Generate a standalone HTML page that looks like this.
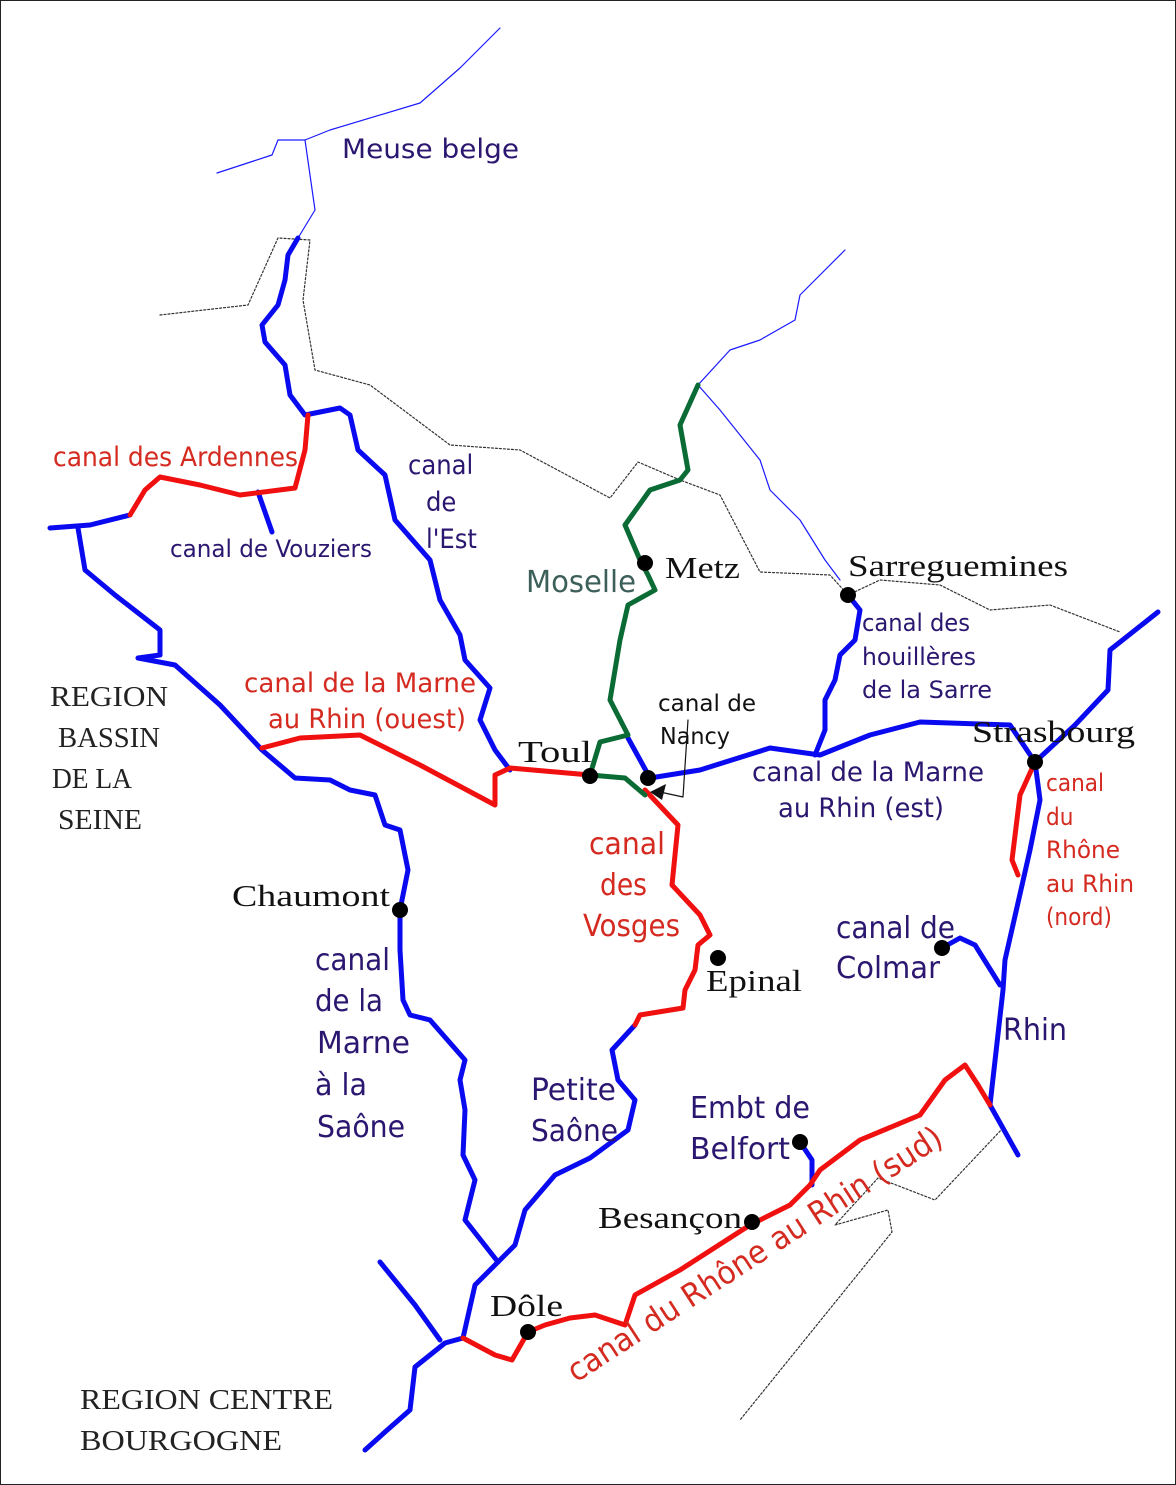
<!DOCTYPE html>
<html><head><meta charset="utf-8"><style>
html,body{margin:0;padding:0;background:#fff}
svg{display:block}
.s{font-family:"DejaVu Sans Condensed","Liberation Sans",sans-serif;font-size:27px;fill:#2b1670}
.r{font-family:"DejaVu Sans Condensed","Liberation Sans",sans-serif;font-size:27px;fill:#d42a20}
.c{font-family:"Liberation Serif",serif;font-size:31px;fill:#111}
.g{font-family:"Liberation Serif",serif;font-size:28px;fill:#222}
</style></head><body>
<svg width="1176" height="1485" viewBox="0 0 1176 1485" xmlns="http://www.w3.org/2000/svg">
<rect x="0.5" y="0.5" width="1175" height="1484" fill="#fff" stroke="#222" stroke-width="1"/>
<g fill="none" stroke-linejoin="round" stroke-linecap="round">
<path d="M500,28 L460,68 L420,103 L330,130 L305,140 L315,210 L298,238 M217,173 L272,155 L278,140 L305,140" stroke="#1a1aff" stroke-width="1.2"/>
<path d="M845,250 L800,295 L795,320 L760,340 L730,350 L698,385 L720,410 L760,460 L770,490 L800,520 L825,560 L840,580" stroke="#1a1aff" stroke-width="1.2"/>
<path d="M160,315 L248,305 L278,238 L310,240 L303,300 L315,370 L370,385 L450,445 L520,450 L610,498 L638,462 L680,480 L720,495 L760,572 L830,575 L848,595 L880,580 L940,585 L990,610 L1050,605 L1120,632" stroke="#333" stroke-width="1.2" stroke-dasharray="2,2"/>
<path d="M1003,1128 L935,1200 L878,1178 L835,1225 L888,1210 L892,1232 L740,1420" stroke="#333" stroke-width="1.2" stroke-dasharray="2,2"/>
<g stroke="#0a0af0" stroke-width="5">
<path d="M298,238 L288,255 L285,280 L278,305 L262,325 L265,342 L285,365 L290,395 L305,415 L340,408 L350,415 L358,450 L385,475 L395,520 L430,560 L440,600 L460,635 L465,660 L490,688 L480,720 L495,750 L510,770"/>
<path d="M130,515 L90,525 L50,528"/>
<path d="M258,492 L272,532"/>
<path d="M78,528 L85,570 L115,595 L160,630 L160,655 L138,658 L175,665 L220,705 L262,750 L295,778 L330,780 L350,790 L375,795 L385,825 L400,830 L408,870 L400,910 L400,950 L403,1000 L410,1015 L430,1020 L465,1060 L460,1080 L465,1110 L463,1155 L475,1180 L465,1220 L498,1262 L475,1285 L463,1338 L445,1343 L415,1367 L410,1410 L385,1432 L365,1450"/>
<path d="M380,1262 L415,1305 L440,1340"/>
<path d="M628,738 L650,778 L700,770 L770,748 L820,755 L870,735 L920,722 L1010,725 L1035,762"/>
<path d="M848,595 L860,610 L855,640 L840,655 L835,680 L825,700 L825,730 L815,755"/>
<path d="M1158,612 L1110,650 L1108,690 L1075,725 L1035,762 L1040,800 L1030,850 L1005,960 L1003,990 L990,1105 L1018,1155"/>
<path d="M942,948 L960,938 L975,945 L1000,985"/>
<path d="M635,1025 L612,1050 L618,1080 L635,1100 L628,1130 L590,1158 L555,1175 L525,1210 L515,1245 L498,1262"/>
<path d="M800,1142 L812,1160 L812,1185"/>
</g>
<g stroke="#f01010" stroke-width="5">
<path d="M308,415 L305,450 L295,488 L240,495 L200,485 L160,477 L145,490 L130,515"/>
<path d="M262,748 L300,738 L360,735 L420,765 L495,805 L495,775 L510,768 L590,775"/>
<path d="M1035,762 L1020,795 L1012,860 L1018,875"/>
<path d="M645,790 L678,825 L672,885 L700,915 L710,935 L698,945 L695,970 L685,990 L683,1008 L640,1015 L635,1025"/>
<path d="M463,1338 L495,1355 L512,1360 L528,1332 L545,1325 L570,1318 L595,1315 L625,1325 L635,1295 L680,1270 L750,1225 L790,1205 L810,1185 L820,1170 L860,1140 L920,1115 L945,1080 L965,1065 L978,1085 L990,1105"/>
</g>
<path d="M698,385 L680,425 L688,470 L680,480 L650,490 L625,525 L640,560 L648,575 L655,590 L628,605 L620,640 L610,700 L628,735 L600,742 L590,775 L625,778 L645,795" stroke="#0b6b35" stroke-width="5"/>
<path d="M688,720 L683,797 L660,792" stroke="#111" stroke-width="1.2"/>
</g>
<path d="M650,792 L666,784 L662,800 Z" fill="#111"/>
<g fill="#000">
<circle cx="645" cy="563" r="8"/><circle cx="848" cy="595" r="8"/><circle cx="1035" cy="762" r="8"/>
<circle cx="590" cy="776" r="8"/><circle cx="648" cy="778" r="8"/><circle cx="400" cy="910" r="8"/>
<circle cx="718" cy="958" r="8"/><circle cx="942" cy="948" r="8"/><circle cx="800" cy="1142" r="8"/>
<circle cx="752" cy="1222" r="8"/><circle cx="528" cy="1332" r="8"/>
</g>
<g lengthAdjust="spacingAndGlyphs">
<text class="s" x="342" y="158" textLength="177" lengthAdjust="spacingAndGlyphs">Meuse belge</text>
<text class="r" x="53" y="466" textLength="245" lengthAdjust="spacingAndGlyphs">canal des Ardennes</text>
<text class="s" x="170" y="557" style="font-size:24px" textLength="202" lengthAdjust="spacingAndGlyphs">canal de Vouziers</text>
<text class="s" x="408" y="474">canal</text>
<text class="s" x="426" y="511">de</text>
<text class="s" x="426" y="548">l'Est</text>
<text class="s" x="526" y="592" style="fill:#3d5f5a;font-size:30px" textLength="110" lengthAdjust="spacingAndGlyphs">Moselle</text>
<text class="c" x="665" y="578" textLength="75" lengthAdjust="spacingAndGlyphs">Metz</text>
<text class="c" x="848" y="576" textLength="220" lengthAdjust="spacingAndGlyphs">Sarreguemines</text>
<text class="s" x="862" y="631" style="font-size:24px" textLength="108" lengthAdjust="spacingAndGlyphs">canal des</text>
<text class="s" x="862" y="665" style="font-size:24px" textLength="114" lengthAdjust="spacingAndGlyphs">houillères</text>
<text class="s" x="862" y="698" style="font-size:24px" textLength="130" lengthAdjust="spacingAndGlyphs">de la Sarre</text>
<text class="r" x="244" y="692" textLength="232" lengthAdjust="spacingAndGlyphs">canal de la Marne</text>
<text class="r" x="268" y="728" textLength="198" lengthAdjust="spacingAndGlyphs">au Rhin (ouest)</text>
<text class="s" x="658" y="711" style="fill:#111;font-size:23px" textLength="98" lengthAdjust="spacingAndGlyphs">canal de</text>
<text class="s" x="660" y="744" style="fill:#111;font-size:23px" textLength="70" lengthAdjust="spacingAndGlyphs">Nancy</text>
<text class="c" x="518" y="762" textLength="74" lengthAdjust="spacingAndGlyphs">Toul</text>
<text class="c" x="972" y="742" textLength="163" lengthAdjust="spacingAndGlyphs">Strasbourg</text>
<text class="s" x="752" y="781" textLength="232" lengthAdjust="spacingAndGlyphs">canal de la Marne</text>
<text class="s" x="778" y="817" textLength="166" lengthAdjust="spacingAndGlyphs">au Rhin (est)</text>
<text class="r" x="1046" y="791" style="font-size:24px">canal</text>
<text class="r" x="1046" y="825" style="font-size:24px">du</text>
<text class="r" x="1046" y="858" style="font-size:24px" textLength="74" lengthAdjust="spacingAndGlyphs">Rhône</text>
<text class="r" x="1046" y="892" style="font-size:24px" textLength="88" lengthAdjust="spacingAndGlyphs">au Rhin</text>
<text class="r" x="1046" y="925" style="font-size:24px">(nord)</text>
<text class="g" x="50" y="706" textLength="118" lengthAdjust="spacingAndGlyphs">REGION</text>
<text class="g" x="58" y="747" textLength="102" lengthAdjust="spacingAndGlyphs">BASSIN</text>
<text class="g" x="52" y="788" textLength="80" lengthAdjust="spacingAndGlyphs">DE LA</text>
<text class="g" x="58" y="829" textLength="84" lengthAdjust="spacingAndGlyphs">SEINE</text>
<text class="r" x="589" y="854" style="font-size:30px" textLength="76" lengthAdjust="spacingAndGlyphs">canal</text>
<text class="r" x="600" y="895" style="font-size:30px" textLength="47" lengthAdjust="spacingAndGlyphs">des</text>
<text class="r" x="583" y="936" style="font-size:30px" textLength="97" lengthAdjust="spacingAndGlyphs">Vosges</text>
<text class="c" x="232" y="906" textLength="158" lengthAdjust="spacingAndGlyphs">Chaumont</text>
<text class="s" x="836" y="938" style="font-size:30px" textLength="119" lengthAdjust="spacingAndGlyphs">canal de</text>
<text class="s" x="836" y="978" style="font-size:30px" textLength="104" lengthAdjust="spacingAndGlyphs">Colmar</text>
<text class="c" x="706" y="991" textLength="96" lengthAdjust="spacingAndGlyphs">Epinal</text>
<text class="s" x="315" y="970" style="font-size:30px" textLength="75" lengthAdjust="spacingAndGlyphs">canal</text>
<text class="s" x="315" y="1011" style="font-size:30px" textLength="68" lengthAdjust="spacingAndGlyphs">de la</text>
<text class="s" x="317" y="1053" style="font-size:30px" textLength="93" lengthAdjust="spacingAndGlyphs">Marne</text>
<text class="s" x="315" y="1095" style="font-size:30px" textLength="52" lengthAdjust="spacingAndGlyphs">à la</text>
<text class="s" x="317" y="1137" style="font-size:30px" textLength="88" lengthAdjust="spacingAndGlyphs">Saône</text>
<text class="s" x="1003" y="1040" style="font-size:30px" textLength="64" lengthAdjust="spacingAndGlyphs">Rhin</text>
<text class="s" x="531" y="1100" style="font-size:30px" textLength="85" lengthAdjust="spacingAndGlyphs">Petite</text>
<text class="s" x="531" y="1141" style="font-size:30px" textLength="87" lengthAdjust="spacingAndGlyphs">Saône</text>
<text class="s" x="690" y="1118" style="font-size:30px" textLength="120" lengthAdjust="spacingAndGlyphs">Embt de</text>
<text class="s" x="690" y="1159" style="font-size:30px" textLength="100" lengthAdjust="spacingAndGlyphs">Belfort</text>
<text class="c" x="598" y="1228" textLength="144" lengthAdjust="spacingAndGlyphs">Besançon</text>
<text class="c" x="490" y="1316" textLength="73" lengthAdjust="spacingAndGlyphs">Dôle</text>
<text class="r" x="0" y="0" style="font-size:32px" transform="translate(576,1383) rotate(-33)" textLength="440" lengthAdjust="spacingAndGlyphs">canal du Rhône au Rhin (sud)</text>
<text class="g" x="80" y="1409" textLength="253" lengthAdjust="spacingAndGlyphs">REGION CENTRE</text>
<text class="g" x="80" y="1450" textLength="202" lengthAdjust="spacingAndGlyphs">BOURGOGNE</text>
</g>
</svg>
</body></html>
